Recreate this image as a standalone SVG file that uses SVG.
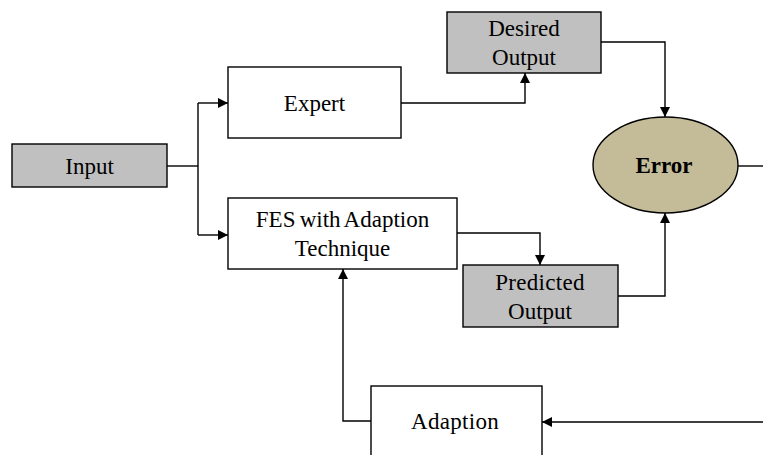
<svg xmlns="http://www.w3.org/2000/svg" width="763" height="455" viewBox="0 0 763 455">
  <style>
    .box { fill: #ffffff; stroke: #000000; stroke-width: 1.4; }
    .grey { fill: #c0c0c0; stroke: #000000; stroke-width: 1.4; }
    .oval { fill: #c4bc98; stroke: #000000; stroke-width: 1.4; }
    .lbl { font-family: "Liberation Serif", "Times New Roman", serif; font-size: 23px; fill: #000000; text-anchor: middle; }
    .bold { font-weight: bold; }
    .wire { fill: none; stroke: #000000; stroke-width: 1.4; }
  </style>
  <defs>
    <marker id="arrow" viewBox="0 0 10 10" refX="10" refY="5" markerWidth="12" markerHeight="10" markerUnits="userSpaceOnUse" orient="auto">
      <path d="M0,0 L10,5 L0,10 Z" fill="#000000"/>
    </marker>
  </defs>
  <rect width="763" height="455" fill="#ffffff"/>

  <g id="connectors">
    <path class="wire" d="M167,166 H198"/>
    <path class="wire" d="M198,103 V235"/>
    <path class="wire" d="M198,103 H228" marker-end="url(#arrow)"/>
    <path class="wire" d="M198,235 H228" marker-end="url(#arrow)"/>
    <path class="wire" d="M401,103 H525 V73" marker-end="url(#arrow)"/>
    <path class="wire" d="M601,42 H665 V117" marker-end="url(#arrow)"/>
    <path class="wire" d="M457,233 H540 V265" marker-end="url(#arrow)"/>
    <path class="wire" d="M618,296 H665 V213" marker-end="url(#arrow)"/>
    <path class="wire" d="M738,166 H763"/>
    <path class="wire" d="M763,422 H542" marker-end="url(#arrow)"/>
    <path class="wire" d="M371,421 H343 V269" marker-end="url(#arrow)"/>
  </g>

  <g id="input">
    <rect class="grey" x="12" y="144" width="155" height="43"/>
    <text class="lbl" x="89.5" y="174">Input</text>
  </g>

  <g id="expert">
    <rect class="box" x="228" y="67" width="173" height="71"/>
    <text class="lbl" x="314.5" y="111">Expert</text>
  </g>

  <g id="desired-output">
    <rect class="grey" x="447" y="12" width="154" height="61"/>
    <text class="lbl" x="524" y="36">Desired</text>
    <text class="lbl" x="524" y="65">Output</text>
  </g>

  <g id="fes">
    <rect class="box" x="228" y="198" width="229" height="71"/>
    <text class="lbl" x="342.5" y="227" word-spacing="-1.5">FES with Adaption</text>
    <text class="lbl" x="342.5" y="256">Technique</text>
  </g>

  <g id="predicted-output">
    <rect class="grey" x="463" y="265" width="155" height="62"/>
    <text class="lbl" x="540" y="290" letter-spacing="0.3">Predicted</text>
    <text class="lbl" x="540" y="319">Output</text>
  </g>

  <g id="error">
    <ellipse class="oval" cx="665.5" cy="165" rx="72.5" ry="48"/>
    <text class="lbl bold" x="664" y="173">Error</text>
  </g>

  <g id="adaption">
    <rect class="box" x="371" y="386" width="171" height="80"/>
    <text class="lbl" x="455" y="429" letter-spacing="0.3">Adaption</text>
  </g>
</svg>
